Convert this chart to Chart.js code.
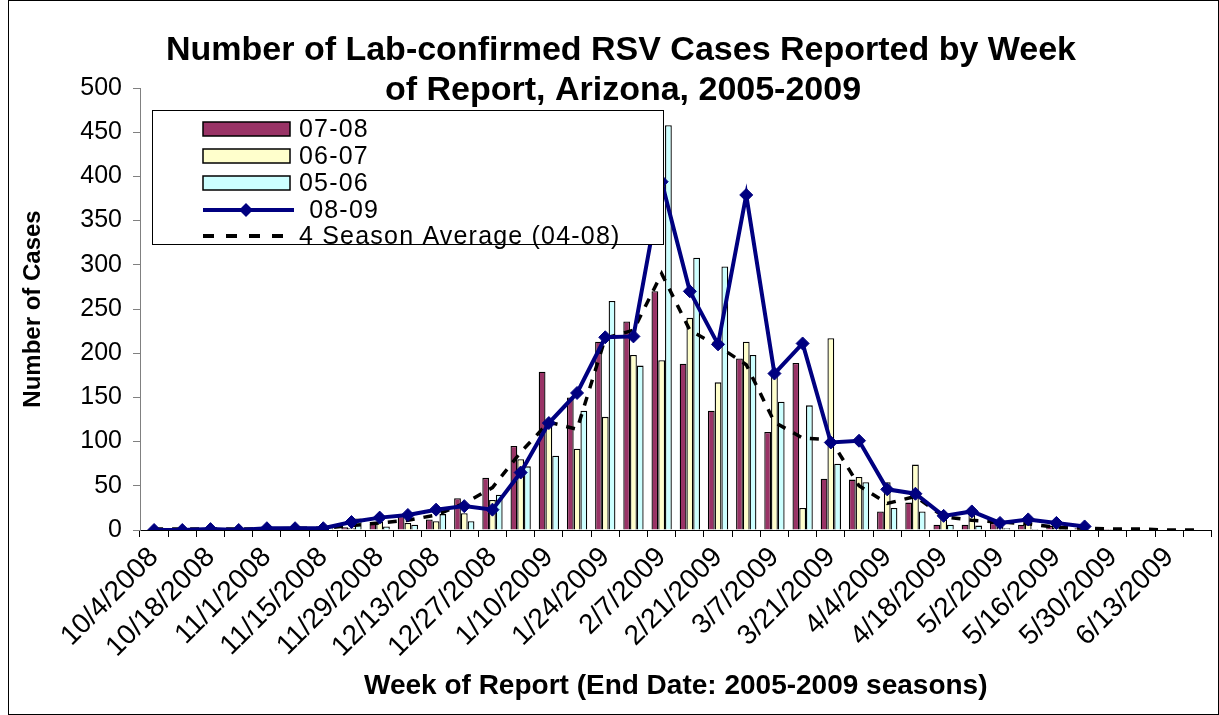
<!DOCTYPE html>
<html>
<head>
<meta charset="utf-8">
<title>RSV Cases Arizona</title>
<script src="https://cdn.jsdelivr.net/npm/chart.js@4.4.0/dist/chart.umd.min.js"></script>
<style>
  body { margin: 0; background: #fff; }
  canvas { display: block; }
</style>
</head>
<body>
<canvas id="rsvChart" width="1219" height="715"></canvas>
<script>
// week ending dates (one category per week)
const weeks = ['10/4/2008', '10/11/2008', '10/18/2008', '10/25/2008', '11/1/2008', '11/8/2008',
  '11/15/2008', '11/22/2008', '11/29/2008', '12/6/2008', '12/13/2008', '12/20/2008', '12/27/2008',
  '1/3/2009', '1/10/2009', '1/17/2009', '1/24/2009', '1/31/2009', '2/7/2009', '2/14/2009',
  '2/21/2009', '2/28/2009', '3/7/2009', '3/14/2009', '3/21/2009', '3/28/2009', '4/4/2009',
  '4/11/2009', '4/18/2009', '4/25/2009', '5/2/2009', '5/9/2009', '5/16/2009', '5/23/2009',
  '5/30/2009', '6/6/2009', '6/13/2009', '6/20/2009'];

// season values (cases per week)
const season0708 = [0, 0, 0, 1, 0, 1, 2, 3, 7, 16, 12, 36, 59, 95, 179, 150, 213, 236, 270, 188,
  135, 194, 111, 189, 58, 57, 21, 31, 6, 6, 8, 6, 5, 2, 1, 0, 0, 0];
const season0607 = [0, 1, 0, 0, 1, 1, 2, 2, 9, 8, 10, 19, 34, 80, 118, 92, 128, 198, 192, 240,
  167, 213, 177, 25, 217, 60, 54, 74, 15, 19, 4, 11, 3, 1, 1, 0, 0, 0];
const season0506 = [0, 0, 0, 1, 1, 1, 2, 13, 4, 6, 18, 10, 40, 72, 84, 135, 259, 186, 458, 308,
  298, 198, 145, 141, 75, 54, 25, 21, 6, 5, 2, 1, 1, 0, 0, 0, 0, 0];
const season0809 = [0, 0, 1, 0, 2, 2, 2, 9, 14, 17, 23, 27, 23, 65, 121, 155, 218, 219, 394, 270,
  210, 379, 177, 211, 99, 101, 46, 41, 16, 21, 8, 12, 8, 4, null, null, null, null];
const avg0408 = [1, 1, 1, 1, 1, 2, 2, 5, 8, 11, 17, 30, 48, 88, 122, 114, 217, 226, 290, 226,
  208, 187, 122, 104, 102, 50, 30, 38, 15, 11, 9, 7, 3, 2, 1, 1, 0, 0];

const yTicks = [0, 50, 100, 150, 200, 250, 300, 350, 400, 450, 500];

const titleLines = ['Number of Lab-confirmed RSV Cases Reported by Week', 'of Report, Arizona, 2005-2009'];

const FONT = 'Arial, "Liberation Sans", sans-serif';

// title, legend box and outer frame drawn on top of the plot like the Excel original
const decorPlugin = {
    id: 'decor',
    afterDraw(chart) {
        const ctx = chart.ctx;
        ctx.save();

        // outer frame
        ctx.strokeStyle = '#000';
        ctx.lineWidth = 1;
        ctx.strokeRect(8.5, 0.5, 1210, 714);

        // title
        ctx.fillStyle = '#000';
        ctx.font = 'bold 34px ' + FONT;
        ctx.textAlign = 'center';
        ctx.textBaseline = 'middle';
        ctx.fillText(titleLines[0], 621, 51);
        ctx.fillText(titleLines[1], 623, 91);

        // legend
        const lx = 152, ly = 110, lw = 511, lh = 134;
        ctx.fillStyle = '#fff';
        ctx.fillRect(lx, ly, lw, lh);
        ctx.strokeStyle = '#000';
        ctx.strokeRect(lx + 0.5, ly + 0.5, lw, lh);

        const rows = [129, 156, 183, 210, 236];
        const ds = chart.data.datasets;
        ctx.font = '25px ' + FONT;
        ctx.letterSpacing = '1.2px';
        ctx.textAlign = 'left';
        ds.forEach((d, i) => {
            const y = rows[i];
            if (d.type !== 'line') {
                ctx.fillStyle = d.backgroundColor;
                ctx.fillRect(203, y - 7, 87, 14);
                ctx.lineWidth = 1.5;
                ctx.strokeStyle = '#000';
                ctx.strokeRect(203, y - 7, 87, 14);
                ctx.fillStyle = '#000';
                ctx.fillText(d.label, 299, y + 1);
            } else if (d.pointRadius > 0) {
                ctx.strokeStyle = d.borderColor;
                ctx.lineWidth = 4;
                ctx.beginPath();
                ctx.moveTo(203, y);
                ctx.lineTo(294, y);
                ctx.stroke();
                ctx.fillStyle = d.borderColor;
                ctx.beginPath();
                ctx.moveTo(246, y - 7);
                ctx.lineTo(253, y);
                ctx.lineTo(246, y + 7);
                ctx.lineTo(239, y);
                ctx.closePath();
                ctx.fill();
                ctx.fillStyle = '#000';
                ctx.fillText(' ' + d.label, 301, y + 1);
            } else {
                ctx.strokeStyle = d.borderColor;
                ctx.lineWidth = 4;
                ctx.setLineDash([11, 12]);
                ctx.beginPath();
                ctx.moveTo(203, y);
                ctx.lineTo(292, y);
                ctx.stroke();
                ctx.setLineDash([]);
                ctx.fillStyle = '#000';
                ctx.fillText(d.label, 299, y + 1);
            }
        });
        ctx.restore();
    }
};

const barStyle = {
    borderColor: '#000',
    borderWidth: 1.3,
    categoryPercentage: 0.72,
    barPercentage: 1.0,
    order: 3
};

const ctx = document.getElementById('rsvChart').getContext('2d');
const rsvChart = new Chart(ctx, {
    type: 'bar',
    data: {
        labels: weeks,
        datasets: [
            Object.assign({ label: '07-08', data: season0708, backgroundColor: '#993366' }, barStyle),
            Object.assign({ label: '06-07', data: season0607, backgroundColor: '#FFFFCC' }, barStyle),
            Object.assign({ label: '05-06', data: season0506, backgroundColor: '#CCFFFF' }, barStyle),
            {
                type: 'line',
                label: '08-09',
                data: season0809,
                borderColor: '#000080',
                backgroundColor: '#000080',
                borderWidth: 4,
                pointStyle: 'rectRot',
                pointRadius: 6.5,
                pointBorderWidth: 1,
                tension: 0,
                fill: false,
                order: 1
            },
            {
                type: 'line',
                label: '4 Season Average (04-08)',
                data: avg0408,
                borderColor: '#000',
                borderWidth: 3.5,
                borderDash: [9, 9],
                pointRadius: 0,
                tension: 0,
                fill: false,
                order: 2
            }
        ]
    },
    options: {
        responsive: false,
        animation: false,
        layout: {
            padding: { top: 88, right: 0, left: 0, bottom: 0 }
        },
        plugins: {
            legend: { display: false },
            title: { display: false },
            tooltip: { enabled: false }
        },
        scales: {
            x: {
                offset: true,
                afterFit(scale) {
                    scale.height = 185;
                    scale.paddingLeft = 0;
                    scale.paddingRight = 0;
                },
                grid: {
                    drawOnChartArea: false,
                    drawTicks: true,
                    tickLength: 7,
                    color: '#000',
                    offset: true
                },
                border: { color: '#000', width: 1 },
                ticks: {
                    autoSkip: false,
                    maxRotation: 45,
                    minRotation: 45,
                    padding: 4,
                    color: '#000',
                    font: { family: FONT, size: 28 },
                    callback: function (value, index) {
                        return index % 2 === 0 ? weeks[index] : '';
                    }
                },
                title: {
                    display: true,
                    text: 'Week of Report (End Date: 2005-2009 seasons)',
                    color: '#000',
                    font: { family: FONT, size: 28, weight: 'bold' },
                    padding: { top: 0, bottom: 12 }
                }
            },
            y: {
                min: 0,
                max: 500,
                afterFit(scale) { scale.width = 140; },
                afterBuildTicks(scale) { scale.ticks = yTicks.map(v => ({ value: v })); },
                grid: {
                    drawOnChartArea: false,
                    drawTicks: true,
                    tickLength: 7,
                    color: '#808080'
                },
                border: { color: '#808080', width: 1 },
                ticks: {
                    padding: 11,
                    color: '#000',
                    font: { family: FONT, size: 25 }
                },
                title: {
                    display: true,
                    text: 'Number of Cases',
                    color: '#000',
                    font: { family: FONT, size: 24, weight: 'bold' },
                    padding: { top: 19, bottom: 0 }
                }
            }
        }
    },
    plugins: [decorPlugin]
});
</script>
</body>
</html>
